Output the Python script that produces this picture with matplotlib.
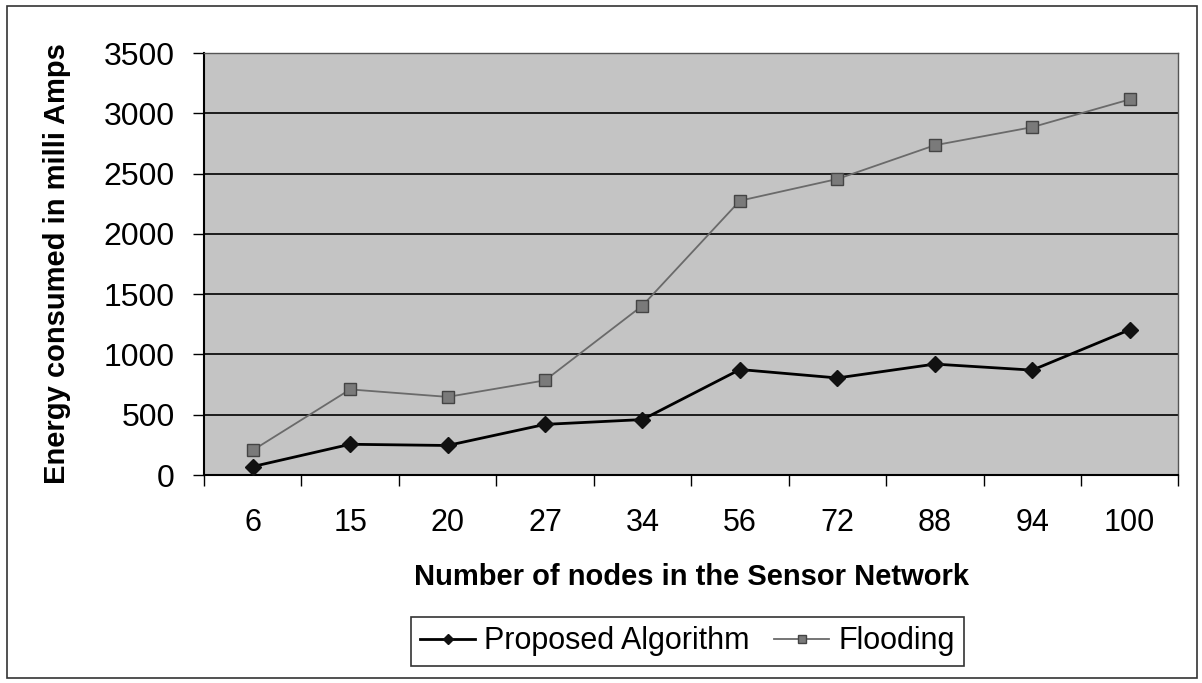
import matplotlib
matplotlib.use("Agg")
import matplotlib.pyplot as plt
from matplotlib.patches import Rectangle

plt.rcParams["font.family"] = ["Liberation Sans", "DejaVu Sans"]

nodes = ["6", "15", "20", "27", "34", "56", "72", "88", "94", "100"]
proposed = [70, 255, 245, 420, 460, 875, 805, 920, 870, 1205]
flooding = [205, 710, 648, 785, 1405, 2275, 2455, 2735, 2885, 3115]
y_ticks = [0, 500, 1000, 1500, 2000, 2500, 3000, 3500]

fig = plt.figure(figsize=(12.02, 6.83), dpi=100)
ax = fig.add_axes([0.1697, 0.3045, 0.8107, 0.6179])
ax.set_facecolor("#c4c4c4")

x = list(range(len(nodes)))
ax.plot(x, proposed, color="black", lw=2.0, marker="D", ms=8,
        mfc="#111111", mec="#111111", label="Proposed Algorithm", zorder=4)
ax.plot(x, flooding, color="#6a6a6a", lw=1.3, marker="s", ms=9,
        mfc="#7a7a7a", mec="#444444", mew=1.0, label="Flooding", zorder=3)

ax.set_xlim(-0.5, len(nodes) - 0.5)
ax.set_ylim(0, 3500)
ax.set_yticks(y_ticks)
ax.set_yticklabels([str(v) for v in y_ticks])
ax.yaxis.grid(True, color="black", lw=1.2)
ax.set_axisbelow(True)

ax.set_xticks(x)
ax.set_xticklabels(nodes)
ax.set_xticks([i - 0.5 for i in range(len(nodes) + 1)], minor=True)
ax.tick_params(axis="x", which="major", length=0, pad=24, labelsize=22)
ax.tick_params(axis="x", which="minor", length=8, width=1.0, direction="out")
ax.tick_params(axis="y", length=8, width=1.0, direction="out", pad=13, labelsize=23)

for side in ["left", "bottom"]:
    ax.spines[side].set_color("black")
    ax.spines[side].set_linewidth(1.5)
for side in ["top", "right"]:
    ax.spines[side].set_color("#555555")
    ax.spines[side].set_linewidth(1.0)

ax.set_xlabel("Number of nodes in the Sensor Network", fontsize=21,
              fontweight="bold", labelpad=18)
ax.set_ylabel("Energy consumed in milli Amps", fontsize=21, fontweight="bold")
ax.yaxis.set_label_coords(-0.1366, 0.5)

leg = fig.legend(loc="center", bbox_to_anchor=(0.572, 0.061), ncol=2,
                 fontsize=22, frameon=True, fancybox=False, edgecolor="black",
                 handlelength=1.8, handletextpad=0.3, columnspacing=0.8,
                 borderpad=0.3, markerscale=0.6)
leg.get_frame().set_linewidth(1.2)

# outer chart border
fig.patches.append(Rectangle((0.006, 0.008), 0.99, 0.983, transform=fig.transFigure,
                             fill=False, edgecolor="#333333", lw=1.2))

fig.savefig("out.png", dpi=100)
